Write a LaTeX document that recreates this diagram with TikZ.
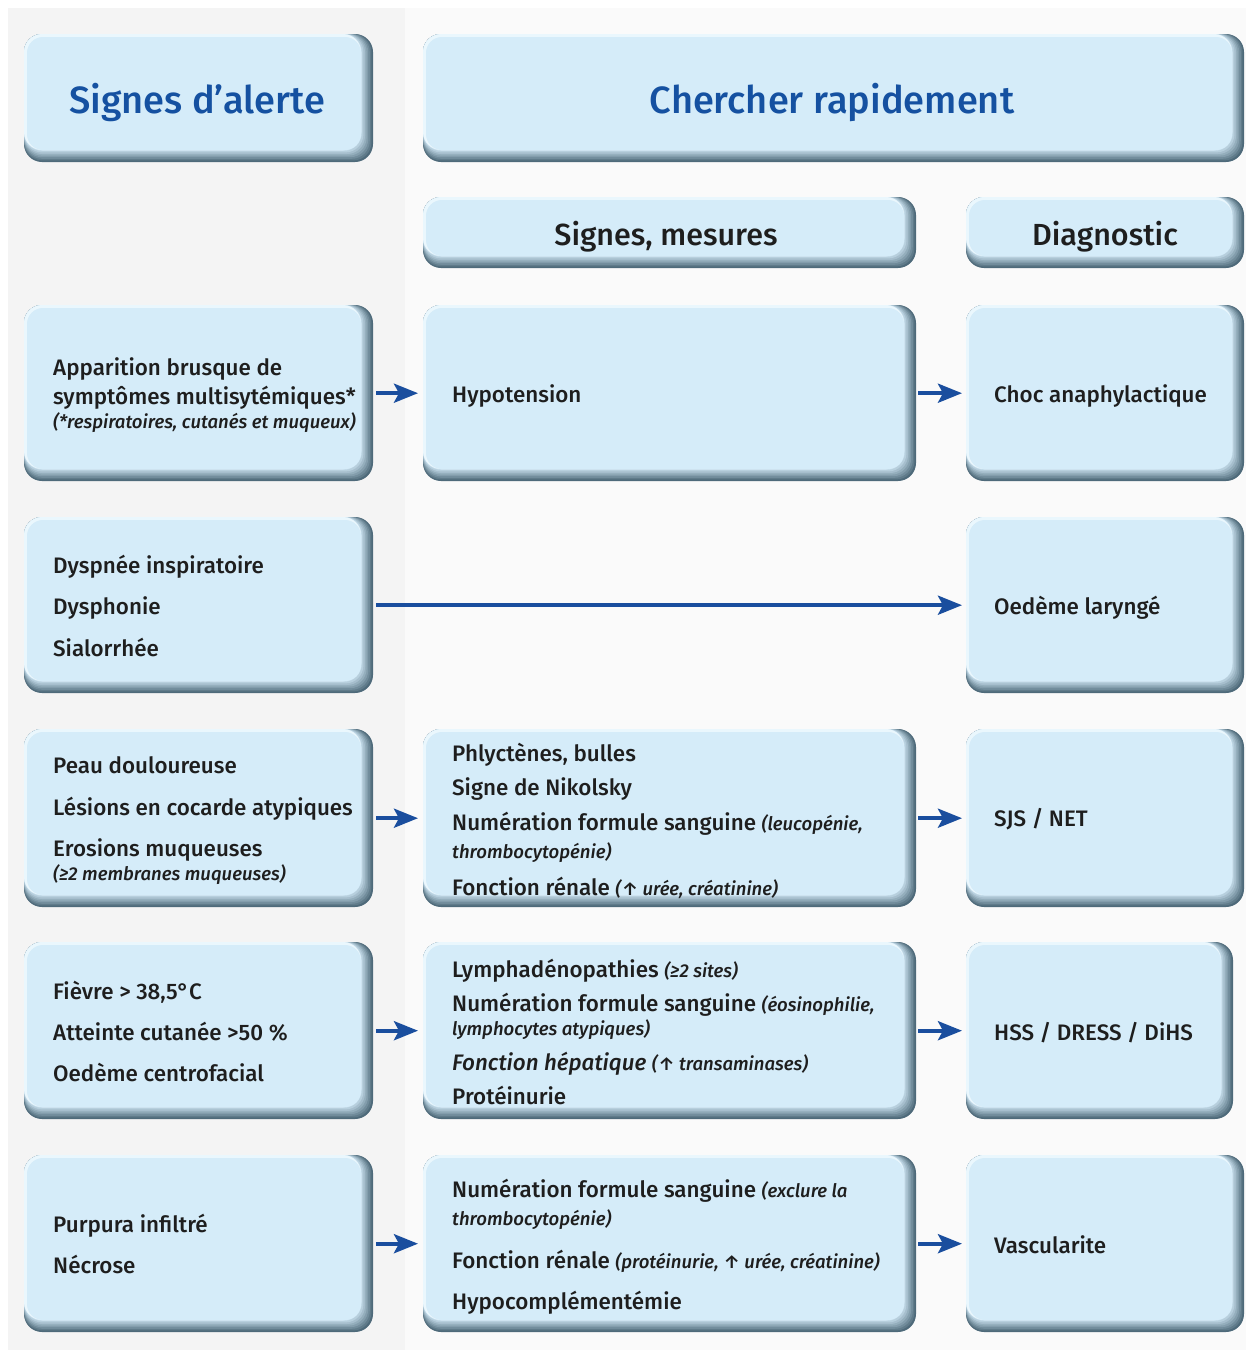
\documentclass[tikz,border=0pt]{standalone}
\usepackage{fontspec}
\setmainfont{Fira Sans}[UprightFont={* Medium}, ItalicFont={* Medium Italic}]
\usetikzlibrary{arrows.meta}
\definecolor{bodyc}{HTML}{D5ECF9}
\definecolor{edgec}{HTML}{4E6A7A}
\definecolor{hic}{HTML}{EAF7FD}
\definecolor{titleblue}{HTML}{1551A1}
\definecolor{arrblue}{HTML}{1A4E9E}
\definecolor{txtc}{HTML}{1E1E1E}
\definecolor{bgl}{HTML}{F4F4F4}
\definecolor{bgr}{HTML}{FAFAFA}
\newcommand\smit[1]{{\fontsize{18.6}{20}\selectfont\itshape #1}}
\newcommand\bevbox[5]{%
  \foreach \k in {0,...,7}{%
    \pgfmathsetmacro\pct{\k*13}%
    \fill[bodyc!\pct!edgec, rounded corners=18pt] (#2,#3) rectangle ({#4-1.6*\k},{#5-1.6*\k});
  }%
  \fill[hic, rounded corners=18pt] (#2,#3) rectangle ({#4-12},{#5-12});
  \fill[bodyc, rounded corners=16pt] ({#2+3},{#3+3}) rectangle ({#4-12},{#5-12});
  \node[inner sep=0pt, minimum width={#4-#2}, minimum height={#5-#3}, anchor=north west] (#1) at (#2,#3) {};
}
\tikzset{
  txt/.style={inner sep=0pt, anchor=base west, font=\fontsize{22.4}{24}\selectfont, text=txtc},
  ttl/.style={inner sep=0pt, anchor=base, font=\fontsize{38}{42}\selectfont, text=titleblue},
  sttl/.style={inner sep=0pt, anchor=base, font=\fontsize{30.5}{34}\selectfont, text=txtc},
  arr/.style={-{Stealth[length=24pt,width=19pt,inset=5pt]}, line width=4pt, arrblue},
}
\begin{document}
\begin{tikzpicture}[x=1pt,y=-1pt]
\useasboundingbox (0,0) rectangle (1246,1350);
\fill[white] (0,0) rectangle (1246,1350);
\fill[bgl] (8,8) rectangle (405,1350);
\fill[bgr] (405,8) rectangle (1246,1350);

% headers
\bevbox{hA}{24}{34}{373}{162}
\bevbox{hB}{423}{34}{1244}{162}
\bevbox{hM}{423}{197}{916}{268}
\bevbox{hD}{966}{197}{1244}{268}
\node[ttl] (tA) at (197,113) {Signes d’alerte};
\node[ttl] (tB) at (832,113) {Chercher rapidement};
\node[sttl] (tM) at (666,245) {Signes, mesures};
\node[sttl] (tD) at (1105,245) {Diagnostic};

% rows
\bevbox{L1}{24}{305}{373}{481}
\bevbox{M1}{423}{305}{916}{481}
\bevbox{R1}{966}{305}{1244}{481}
\bevbox{L2}{24}{517}{373}{693}
\bevbox{R2}{966}{517}{1244}{693}
\bevbox{L3}{24}{729}{373}{907}
\bevbox{M3}{423}{729}{916}{907}
\bevbox{R3}{966}{729}{1244}{907}
\bevbox{L4}{24}{942}{373}{1119}
\bevbox{M4}{423}{942}{916}{1119}
\bevbox{R4}{966}{942}{1233}{1119}
\bevbox{L5}{24}{1155}{373}{1332}
\bevbox{M5}{423}{1155}{916}{1332}
\bevbox{R5}{966}{1155}{1244}{1332}

% row 1
\node[txt] (l1a) at (53,375) {Apparition brusque de};
\node[txt] (l1b) at (53,404) {symptômes multisytémiques*};
\node[txt] (l1c) at (53,428) {\smit{(*respiratoires, cutanés et muqueux)}};
\node[txt] (m1a) at (452,402) {Hypotension};
\node[txt] (r1a) at (994,402) {Choc anaphylactique};
% row 2
\node[txt] (l2a) at (53,573) {Dyspnée inspiratoire};
\node[txt] (l2b) at (53,614) {Dysphonie};
\node[txt] (l2c) at (53,656) {Sialorrhée};
\node[txt] (r2a) at (994,614) {Oedème laryngé};
% row 3
\node[txt] (l3a) at (53,773) {Peau douloureuse};
\node[txt] (l3b) at (53,815) {Lésions en cocarde atypiques};
\node[txt] (l3c) at (53,856) {Erosions muqueuses};
\node[txt] (l3d) at (53,880) {\smit{(≥2 membranes muqueuses)}};
\node[txt] (m3a) at (452,761) {Phlyctènes, bulles};
\node[txt] (m3b) at (452,795) {Signe de Nikolsky};
\node[txt] (m3c) at (452,830) {Numération formule sanguine \smit{(leucopénie,}};
\node[txt] (m3d) at (452,858) {\smit{thrombocytopénie)}};
\node[txt] (m3e) at (452,895) {Fonction rénale \smit{(↑ urée, créatinine)}};
\node[txt] (r3a) at (994,826) {SJS / NET};
% row 4
\node[txt] (l4a) at (53,999) {Fièvre > 38,5°C};
\node[txt] (l4b) at (53,1040) {Atteinte cutanée >50 \%};
\node[txt] (l4c) at (53,1081) {Oedème centrofacial};
\node[txt] (m4a) at (452,977) {Lymphadénopathies \smit{(≥2 sites)}};
\node[txt] (m4b) at (452,1011) {Numération formule sanguine \smit{(éosinophilie,}};
\node[txt] (m4c) at (452,1035) {\smit{lymphocytes atypiques)}};
\node[txt] (m4d) at (452,1070) {\textit{Fonction hépatique} \smit{(↑ transaminases)}};
\node[txt] (m4e) at (452,1104) {Protéinurie};
\node[txt] (r4a) at (994,1040) {HSS / DRESS / DiHS};
% row 5
\node[txt] (l5a) at (53,1232) {Purpura infiltré};
\node[txt] (l5b) at (53,1273) {Nécrose};
\node[txt] (m5a) at (452,1197) {Numération formule sanguine \smit{(exclure la}};
\node[txt] (m5b) at (452,1225) {\smit{thrombocytopénie)}};
\node[txt] (m5c) at (452,1268) {Fonction rénale \smit{(protéinurie, ↑ urée, créatinine)}};
\node[txt] (m5d) at (452,1309) {Hypocomplémentémie};
\node[txt] (r5a) at (994,1253) {Vascularite};

% arrows
\draw[arr, shorten <=3pt, shorten >=5pt] (L1.east) -- (M1.west);
\draw[arr, shorten <=2pt, shorten >=4pt] (M1.east) -- (R1.west);
\draw[arr, shorten <=3pt, shorten >=4pt] (L2.east) -- (R2.west);
\draw[arr, shorten <=3pt, shorten >=5pt] (L3.east) -- (M3.west);
\draw[arr, shorten <=2pt, shorten >=4pt] (M3.east) -- (R3.west);
\draw[arr, shorten <=3pt, shorten >=5pt] (L4.east) -- (M4.west);
\draw[arr, shorten <=2pt, shorten >=4pt] (M4.east) -- (R4.west);
\draw[arr, shorten <=3pt, shorten >=5pt] (L5.east) -- (M5.west);
\draw[arr, shorten <=2pt, shorten >=4pt] (M5.east) -- (R5.west);
\end{tikzpicture}
\end{document}
